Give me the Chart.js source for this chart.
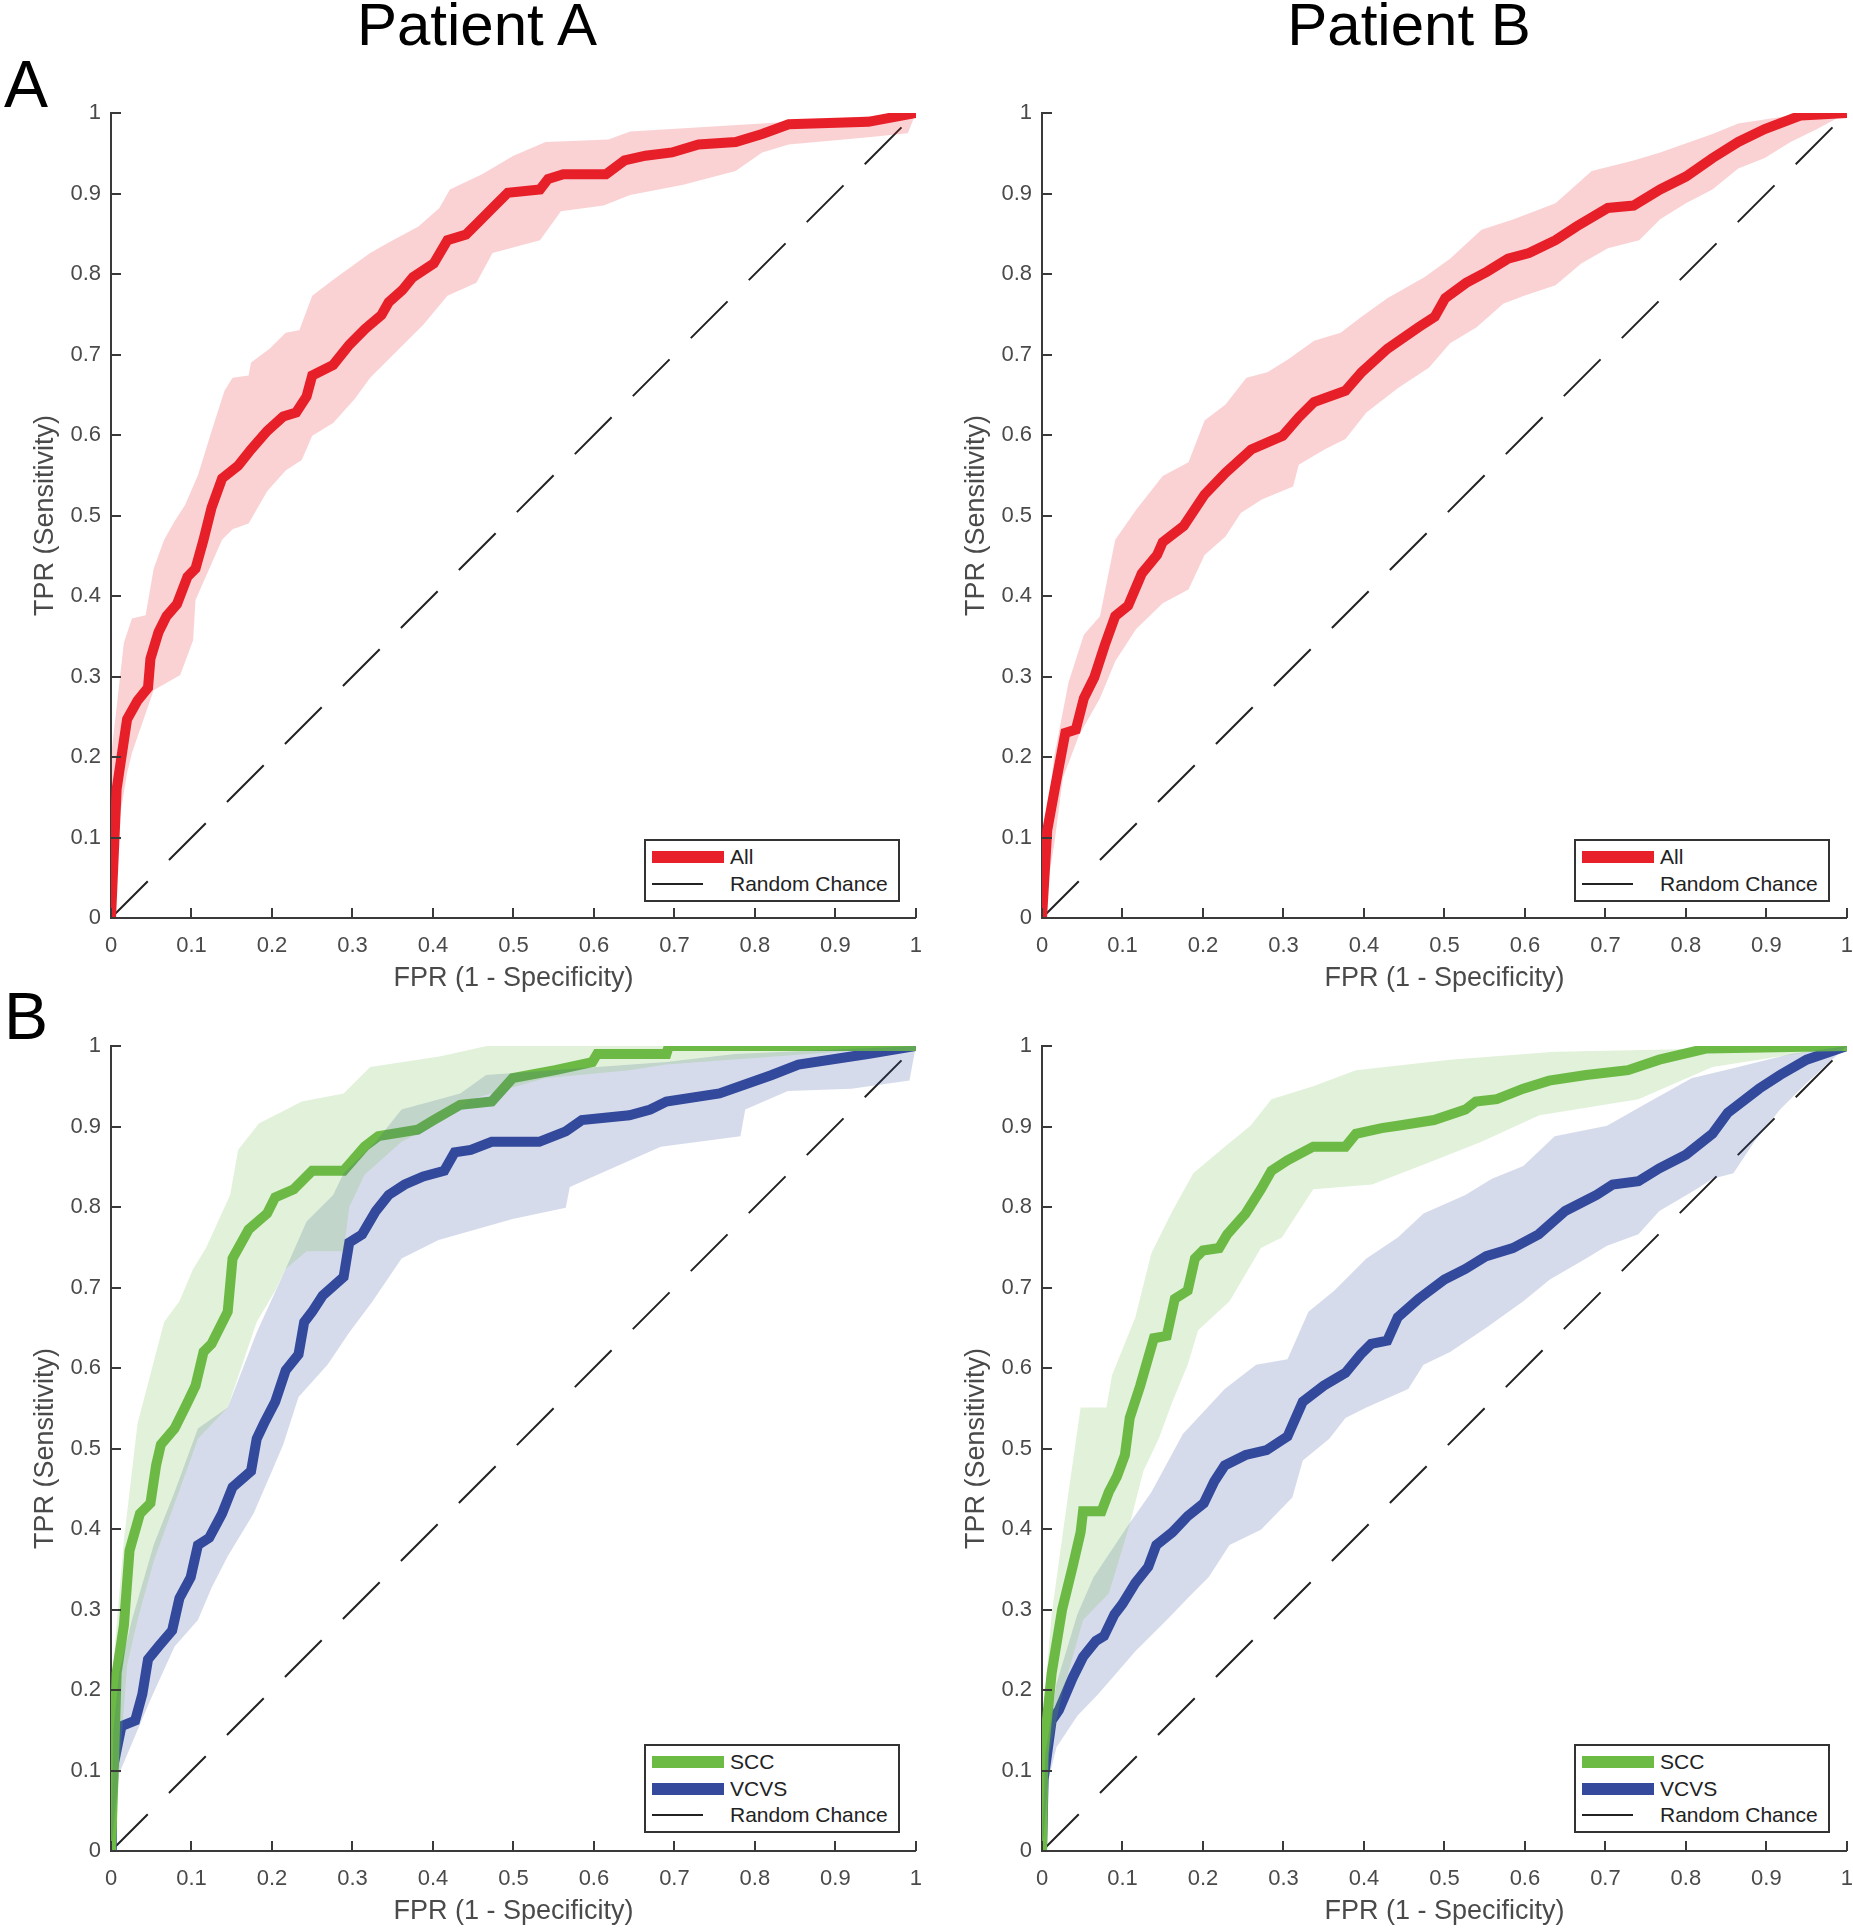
<!DOCTYPE html>
<html>
<head>
<meta charset="utf-8">
<script src="https://cdn.jsdelivr.net/npm/chart.js@4.4.1/dist/chart.umd.min.js"></script>
<style>
  body { margin: 0; background: #fff; }
  #page { position: relative; width: 1853px; height: 1929px; overflow: hidden; font-family: 'Liberation Sans', Arial, Helvetica, sans-serif; }
  canvas { position: absolute; }
  .colTitle { position: absolute; top: -5px; font-size: 60px; line-height: 60px; color: #000; transform: translateX(-50%); white-space: nowrap; }
  .rowLetter { position: absolute; left: 4px; font-size: 66px; line-height: 66px; color: #000; }
  .legend { position: absolute; box-sizing: border-box; width: 256px; border: 2px solid #333; background: #fff; }
  .legend .swatch { position: absolute; left: 6px; }
  .legend .label { position: absolute; left: 84px; font-size: 21px; line-height: 24px; color: #222; white-space: nowrap; }
</style>
</head>
<body>
<div id="page"></div>
<script>
// tick values shared by both axes
const tickValues = [0, 0.1, 0.2, 0.3, 0.4, 0.5, 0.6, 0.7, 0.8, 0.9, 1];
const columnTitles = ['Patient A', 'Patient B'];
const rowLetters = ['A', 'B'];
const randomChance = [[0, 0], [1, 1]];

// Patient A, all contacts: mean ROC and band edges, [FPR, TPR]
const patA_all = [[0,0],[0.007,0.16],[0.02,0.247],[0.033,0.27],[0.046,0.286],[0.049,0.322],[0.059,0.355],[0.069,0.375],[0.082,0.39],[0.095,0.424],[0.105,0.434],[0.115,0.47],[0.125,0.51],[0.138,0.546],[0.158,0.562],[0.174,0.582],[0.194,0.605],[0.214,0.623],[0.23,0.628],[0.243,0.648],[0.25,0.674],[0.276,0.687],[0.296,0.712],[0.316,0.732],[0.336,0.749],[0.345,0.765],[0.362,0.78],[0.375,0.796],[0.401,0.813],[0.418,0.842],[0.441,0.849],[0.457,0.865],[0.474,0.882],[0.493,0.901],[0.533,0.905],[0.543,0.918],[0.562,0.924],[0.615,0.924],[0.638,0.941],[0.664,0.947],[0.697,0.951],[0.73,0.961],[0.776,0.964],[0.809,0.974],[0.842,0.986],[0.941,0.989],[1,1]];
const patA_allHi = [[0,0],[0,0.2],[0.016,0.342],[0.026,0.372],[0.043,0.376],[0.053,0.434],[0.066,0.47],[0.079,0.493],[0.092,0.513],[0.108,0.55],[0.125,0.605],[0.141,0.655],[0.151,0.671],[0.171,0.674],[0.174,0.69],[0.197,0.707],[0.217,0.727],[0.234,0.73],[0.25,0.773],[0.276,0.793],[0.322,0.826],[0.345,0.839],[0.382,0.859],[0.408,0.882],[0.421,0.905],[0.461,0.924],[0.5,0.947],[0.54,0.964],[0.618,0.967],[0.645,0.977],[0.809,0.987],[1,1]];
const patA_allLo = [[0,0],[0.01,0.12],[0.02,0.18],[0.026,0.205],[0.053,0.283],[0.086,0.302],[0.102,0.345],[0.105,0.395],[0.138,0.47],[0.151,0.483],[0.171,0.49],[0.194,0.53],[0.217,0.556],[0.237,0.569],[0.25,0.599],[0.276,0.615],[0.303,0.645],[0.322,0.671],[0.355,0.704],[0.388,0.737],[0.418,0.773],[0.454,0.789],[0.474,0.826],[0.533,0.842],[0.559,0.878],[0.612,0.885],[0.645,0.898],[0.711,0.911],[0.776,0.928],[0.809,0.951],[0.842,0.961],[0.941,0.97],[0.99,0.975],[1,1]];

// Patient B, all contacts
const patB_all = [[0,0],[0.0065,0.109],[0.016,0.161],[0.029,0.23],[0.042,0.234],[0.052,0.273],[0.065,0.299],[0.078,0.339],[0.091,0.375],[0.107,0.388],[0.124,0.428],[0.143,0.451],[0.15,0.467],[0.176,0.487],[0.202,0.526],[0.228,0.553],[0.26,0.582],[0.299,0.599],[0.319,0.622],[0.338,0.641],[0.377,0.655],[0.397,0.678],[0.429,0.707],[0.468,0.734],[0.488,0.747],[0.501,0.77],[0.527,0.789],[0.553,0.803],[0.579,0.819],[0.605,0.826],[0.638,0.842],[0.664,0.859],[0.703,0.882],[0.735,0.885],[0.768,0.905],[0.8,0.921],[0.833,0.944],[0.865,0.964],[0.898,0.98],[0.943,0.997],[1,1]];
const patB_allHi = [[0,0],[0.003,0.095],[0.015,0.2],[0.033,0.293],[0.052,0.352],[0.072,0.375],[0.091,0.47],[0.117,0.507],[0.15,0.549],[0.182,0.566],[0.202,0.618],[0.228,0.638],[0.254,0.671],[0.28,0.678],[0.306,0.694],[0.338,0.717],[0.371,0.727],[0.397,0.747],[0.429,0.77],[0.475,0.796],[0.507,0.819],[0.546,0.855],[0.586,0.868],[0.638,0.888],[0.683,0.928],[0.735,0.941],[0.768,0.951],[0.833,0.974],[0.865,0.987],[0.93,0.997],[1,1]];
const patB_allLo = [[0,0],[0.015,0.09],[0.026,0.174],[0.046,0.227],[0.072,0.273],[0.091,0.319],[0.117,0.359],[0.15,0.391],[0.182,0.408],[0.202,0.451],[0.228,0.474],[0.247,0.503],[0.273,0.52],[0.312,0.536],[0.319,0.563],[0.351,0.582],[0.377,0.595],[0.403,0.628],[0.442,0.658],[0.481,0.684],[0.507,0.714],[0.54,0.734],[0.573,0.763],[0.599,0.773],[0.638,0.786],[0.67,0.813],[0.703,0.832],[0.742,0.842],[0.768,0.868],[0.8,0.888],[0.833,0.905],[0.865,0.931],[0.898,0.944],[0.93,0.964],[0.963,0.98],[1,1]];

// Patient A, SCC and VCVS
const patA_scc = [[0,0],[0.003,0.089],[0.007,0.221],[0.016,0.28],[0.023,0.373],[0.036,0.419],[0.049,0.432],[0.056,0.479],[0.062,0.505],[0.079,0.525],[0.092,0.551],[0.105,0.578],[0.115,0.62],[0.125,0.63],[0.145,0.67],[0.151,0.736],[0.171,0.772],[0.194,0.792],[0.204,0.812],[0.227,0.822],[0.25,0.845],[0.289,0.845],[0.315,0.875],[0.332,0.888],[0.381,0.896],[0.401,0.908],[0.434,0.927],[0.473,0.931],[0.499,0.96],[0.552,0.97],[0.598,0.98],[0.604,0.99],[0.69,0.99],[0.693,1],[1,1]];
const patA_sccHi = [[0,0],[0.003,0.234],[0.016,0.386],[0.033,0.531],[0.066,0.657],[0.085,0.683],[0.102,0.723],[0.118,0.749],[0.148,0.815],[0.158,0.871],[0.184,0.904],[0.21,0.917],[0.237,0.931],[0.289,0.941],[0.322,0.974],[0.408,0.987],[0.467,1],[1,1]];
const patA_sccLo = [[0,0],[0.007,0.056],[0.02,0.231],[0.033,0.287],[0.053,0.36],[0.089,0.459],[0.108,0.512],[0.145,0.551],[0.181,0.657],[0.204,0.696],[0.217,0.723],[0.243,0.745],[0.289,0.745],[0.296,0.8],[0.315,0.84],[0.361,0.881],[0.414,0.908],[0.447,0.934],[0.539,0.96],[0.644,0.97],[0.69,0.977],[1,1]];
const patA_vcvs = [[0,0],[0.001,0.096],[0.013,0.155],[0.03,0.162],[0.039,0.195],[0.046,0.238],[0.059,0.254],[0.076,0.274],[0.085,0.314],[0.099,0.34],[0.108,0.38],[0.122,0.389],[0.138,0.419],[0.151,0.452],[0.174,0.472],[0.181,0.512],[0.19,0.531],[0.204,0.558],[0.217,0.597],[0.233,0.617],[0.24,0.657],[0.25,0.67],[0.263,0.69],[0.289,0.713],[0.296,0.756],[0.312,0.766],[0.329,0.795],[0.345,0.815],[0.365,0.828],[0.388,0.838],[0.414,0.845],[0.427,0.868],[0.447,0.871],[0.473,0.881],[0.532,0.881],[0.565,0.894],[0.585,0.908],[0.644,0.914],[0.67,0.921],[0.69,0.931],[0.756,0.941],[0.821,0.964],[0.854,0.977],[0.94,0.99],[1,1]];
const patA_vcvsHi = [[0,0],[0.003,0.15],[0.01,0.221],[0.026,0.287],[0.053,0.38],[0.079,0.446],[0.108,0.525],[0.145,0.551],[0.181,0.644],[0.217,0.723],[0.243,0.782],[0.276,0.815],[0.289,0.842],[0.329,0.881],[0.361,0.921],[0.434,0.941],[0.466,0.964],[0.69,0.98],[0.775,0.99],[1,1]];
const patA_vcvsLo = [[0,0],[0.01,0.096],[0.049,0.188],[0.079,0.254],[0.108,0.287],[0.125,0.327],[0.145,0.366],[0.177,0.419],[0.2,0.472],[0.214,0.505],[0.233,0.564],[0.269,0.604],[0.296,0.644],[0.325,0.683],[0.361,0.736],[0.407,0.759],[0.499,0.785],[0.565,0.799],[0.57,0.825],[0.683,0.875],[0.782,0.888],[0.788,0.921],[0.841,0.944],[0.92,0.947],[0.992,0.957],[1,1]];

// Patient B, SCC and VCVS
const patB_scc = [[0,0],[0.002,0.122],[0.012,0.221],[0.025,0.3],[0.038,0.353],[0.048,0.396],[0.051,0.422],[0.074,0.422],[0.083,0.446],[0.093,0.465],[0.103,0.492],[0.109,0.538],[0.122,0.578],[0.139,0.637],[0.155,0.64],[0.165,0.686],[0.181,0.696],[0.19,0.736],[0.2,0.746],[0.22,0.749],[0.23,0.766],[0.253,0.792],[0.272,0.822],[0.285,0.845],[0.305,0.858],[0.337,0.875],[0.377,0.875],[0.39,0.891],[0.422,0.898],[0.442,0.901],[0.487,0.908],[0.526,0.921],[0.539,0.931],[0.565,0.934],[0.598,0.947],[0.63,0.957],[0.676,0.964],[0.728,0.97],[0.767,0.983],[0.826,0.997],[1,1]];
const patB_sccHi = [[0,0],[0.004,0.2],[0.012,0.294],[0.031,0.432],[0.048,0.551],[0.08,0.551],[0.087,0.591],[0.116,0.663],[0.136,0.743],[0.162,0.795],[0.188,0.842],[0.227,0.875],[0.259,0.901],[0.285,0.934],[0.337,0.95],[0.39,0.97],[0.507,0.983],[0.637,0.993],[1,1]];
const patB_sccLo = [[0,0],[0.005,0.102],[0.025,0.195],[0.051,0.287],[0.083,0.32],[0.109,0.406],[0.126,0.472],[0.145,0.512],[0.162,0.558],[0.181,0.604],[0.194,0.647],[0.233,0.683],[0.272,0.749],[0.298,0.762],[0.337,0.822],[0.41,0.828],[0.48,0.855],[0.546,0.881],[0.618,0.914],[0.741,0.934],[0.833,0.974],[1,1]];
const patB_vcvs = [[0,0],[0.002,0.089],[0.012,0.162],[0.021,0.175],[0.038,0.215],[0.051,0.241],[0.067,0.261],[0.077,0.267],[0.09,0.294],[0.1,0.307],[0.116,0.333],[0.132,0.353],[0.142,0.38],[0.162,0.396],[0.181,0.416],[0.201,0.432],[0.214,0.459],[0.227,0.479],[0.253,0.492],[0.279,0.498],[0.305,0.515],[0.324,0.558],[0.35,0.578],[0.377,0.594],[0.396,0.617],[0.409,0.63],[0.429,0.634],[0.442,0.663],[0.468,0.686],[0.5,0.71],[0.526,0.723],[0.552,0.739],[0.585,0.749],[0.617,0.766],[0.65,0.795],[0.689,0.815],[0.709,0.828],[0.741,0.832],[0.767,0.848],[0.8,0.865],[0.833,0.891],[0.852,0.917],[0.891,0.947],[0.917,0.964],[0.95,0.983],[1,1]];
const patB_vcvsHi = [[0,0],[0.004,0.12],[0.018,0.208],[0.044,0.294],[0.064,0.34],[0.106,0.403],[0.136,0.446],[0.175,0.518],[0.227,0.574],[0.266,0.604],[0.305,0.611],[0.331,0.67],[0.363,0.696],[0.403,0.736],[0.442,0.762],[0.474,0.792],[0.526,0.815],[0.559,0.835],[0.598,0.851],[0.637,0.888],[0.702,0.901],[0.748,0.927],[0.807,0.96],[0.865,0.974],[0.93,0.99],[1,1]];
const patB_vcvsLo = [[0,0],[0.008,0.089],[0.018,0.129],[0.044,0.168],[0.07,0.195],[0.116,0.248],[0.155,0.287],[0.181,0.314],[0.207,0.34],[0.233,0.38],[0.272,0.399],[0.311,0.439],[0.324,0.485],[0.357,0.512],[0.377,0.538],[0.403,0.551],[0.455,0.574],[0.474,0.604],[0.507,0.62],[0.552,0.65],[0.598,0.683],[0.631,0.71],[0.676,0.736],[0.702,0.752],[0.741,0.766],[0.767,0.795],[0.813,0.822],[0.833,0.835],[0.859,0.842],[0.885,0.881],[0.917,0.921],[0.95,0.954],[1,1]];

const red = [232, 32, 42];
const green = [108, 187, 69];
const blue = [52, 73, 156];
const axisColor = '#3a3a3a';
const textColor = '#4a4a4a';
const bandAlpha = 0.2;
const rgb = (c, a) => a === undefined ? `rgb(${c})` : `rgba(${c},${a})`;

const panels = [
  { row: 0, col: 0, series: [{ label: 'All', color: red, mean: patA_all, hi: patA_allHi, lo: patA_allLo }] },
  { row: 0, col: 1, series: [{ label: 'All', color: red, mean: patB_all, hi: patB_allHi, lo: patB_allLo }] },
  { row: 1, col: 0, series: [
    { label: 'SCC', color: green, mean: patA_scc, hi: patA_sccHi, lo: patA_sccLo },
    { label: 'VCVS', color: blue, mean: patA_vcvs, hi: patA_vcvsHi, lo: patA_vcvsLo }] },
  { row: 1, col: 1, series: [
    { label: 'SCC', color: green, mean: patB_scc, hi: patB_sccHi, lo: patB_sccLo },
    { label: 'VCVS', color: blue, mean: patB_vcvs, hi: patB_vcvsHi, lo: patB_vcvsLo }] },
];

Chart.defaults.font.family = "'Liberation Sans', Arial, Helvetica, sans-serif";

const page = document.getElementById('page');
const colX = [0, 931];
const rowY = [60, 993];
const tickLen = 10;

// MATLAB style ticks pointing into the axes
const inwardTicks = {
  id: 'inwardTicks',
  afterDraw(chart) {
    const { ctx, chartArea: a, scales: { x, y } } = chart;
    ctx.save();
    ctx.strokeStyle = axisColor;
    ctx.lineWidth = 2;
    ctx.beginPath();
    x.ticks.forEach((t) => {
      const px = Math.round(x.getPixelForValue(t.value));
      ctx.moveTo(px, a.bottom);
      ctx.lineTo(px, a.bottom - tickLen);
    });
    y.ticks.forEach((t) => {
      const py = Math.round(y.getPixelForValue(t.value));
      ctx.moveTo(a.left, py);
      ctx.lineTo(a.left + tickLen, py);
    });
    ctx.stroke();
    ctx.restore();
  },
};

const toXY = (arr) => arr.map((p) => ({ x: p[0], y: p[1] }));

columnTitles.forEach((t, i) => {
  const d = document.createElement('div');
  d.className = 'colTitle';
  d.style.left = (477 + i * 932) + 'px';
  d.textContent = t;
  page.appendChild(d);
});
rowLetters.forEach((t, i) => {
  const d = document.createElement('div');
  d.className = 'rowLetter';
  d.style.top = (51 + i * 932) + 'px';
  d.textContent = t;
  page.appendChild(d);
});

panels.forEach((p) => {
  const canvas = document.createElement('canvas');
  // the x scale keeps label padding on the right, so the canvas runs past the plot
  canvas.width = 937;
  canvas.height = 936;
  canvas.style.left = colX[p.col] + 'px';
  canvas.style.top = rowY[p.row] + 'px';
  page.appendChild(canvas);

  const datasets = [{
    label: 'Random Chance',
    data: toXY(randomChance),
    borderColor: '#222',
    borderWidth: 2,
    borderDash: [52, 30],
    pointRadius: 0,
    fill: false,
    order: 3,
  }];
  p.series.forEach((s) => {
    datasets.push({
      label: s.label,
      data: toXY(s.mean),
      borderColor: rgb(s.color),
      borderWidth: 10,
      pointRadius: 0,
      fill: false,
      order: 2,
    });
  });
  p.series.forEach((s) => {
    // upper edge fills down to the lower edge that follows it
    datasets.push({
      label: s.label + ' upper',
      data: toXY(s.hi),
      borderWidth: 0,
      pointRadius: 0,
      backgroundColor: rgb(s.color, bandAlpha),
      fill: '+1',
      order: 1,
    });
    datasets.push({
      label: s.label + ' lower',
      data: toXY(s.lo),
      borderWidth: 0,
      pointRadius: 0,
      fill: false,
      order: 1,
    });
  });

  new Chart(canvas, {
    type: 'line',
    data: { datasets },
    options: {
      responsive: false,
      animation: false,
      devicePixelRatio: 1,
      layout: { padding: { left: 0, top: 53, right: 0, bottom: 0 } },
      plugins: { legend: { display: false }, tooltip: { enabled: false } },
      scales: {
        x: {
          type: 'linear',
          min: 0,
          max: 1,
          afterBuildTicks: (s) => { s.ticks = tickValues.map((v) => ({ value: v })); },
          afterFit: (s) => { s.height = 78; },
          ticks: { padding: 15, color: textColor, font: { size: 22 }, maxRotation: 0, autoSkip: false, callback: (v) => String(v) },
          grid: { display: true, drawOnChartArea: false, drawTicks: false },
          border: { display: true, color: axisColor, width: 2 },
          title: { display: true, text: 'FPR (1 - Specificity)', color: textColor, font: { size: 27 }, padding: { top: 0, bottom: 1 } },
        },
        y: {
          type: 'linear',
          min: 0,
          max: 1,
          afterBuildTicks: (s) => { s.ticks = tickValues.map((v) => ({ value: v })); },
          afterFit: (s) => { s.width = 111; },
          ticks: { padding: 10, color: textColor, font: { size: 22 }, autoSkip: false, callback: (v) => String(v) },
          grid: { display: true, drawOnChartArea: false, drawTicks: false },
          border: { display: true, color: axisColor, width: 2 },
          title: { display: true, text: 'TPR (Sensitivity)', color: textColor, font: { size: 27 }, padding: { top: 29, bottom: 0 } },
        },
      },
    },
    plugins: [inwardTicks],
  });

  // legend box in the lower right corner of the axes
  const rows = p.series.map((s) => ({ label: s.label, color: rgb(s.color), thick: 12 }))
    .concat([{ label: 'Random Chance', color: '#222', thick: 2, short: true }]);
  const box = document.createElement('div');
  box.className = 'legend';
  const boxH = rows.length === 2 ? 63 : 89;
  box.style.left = (644 + p.col * 930) + 'px';
  box.style.top = (p.row === 0 ? 839 : 1744) + 'px';
  box.style.height = boxH + 'px';
  rows.forEach((r, i) => {
    const cy = 16 + i * 26.5;
    const sw = document.createElement('div');
    sw.className = 'swatch';
    sw.style.top = (cy - r.thick / 2) + 'px';
    sw.style.width = (r.short ? 51 : 72) + 'px';
    sw.style.height = r.thick + 'px';
    sw.style.background = r.color;
    const lb = document.createElement('div');
    lb.className = 'label';
    lb.style.top = (cy - 12) + 'px';
    lb.textContent = r.label;
    box.appendChild(sw);
    box.appendChild(lb);
  });
  page.appendChild(box);
});
</script>
</body>
</html>
